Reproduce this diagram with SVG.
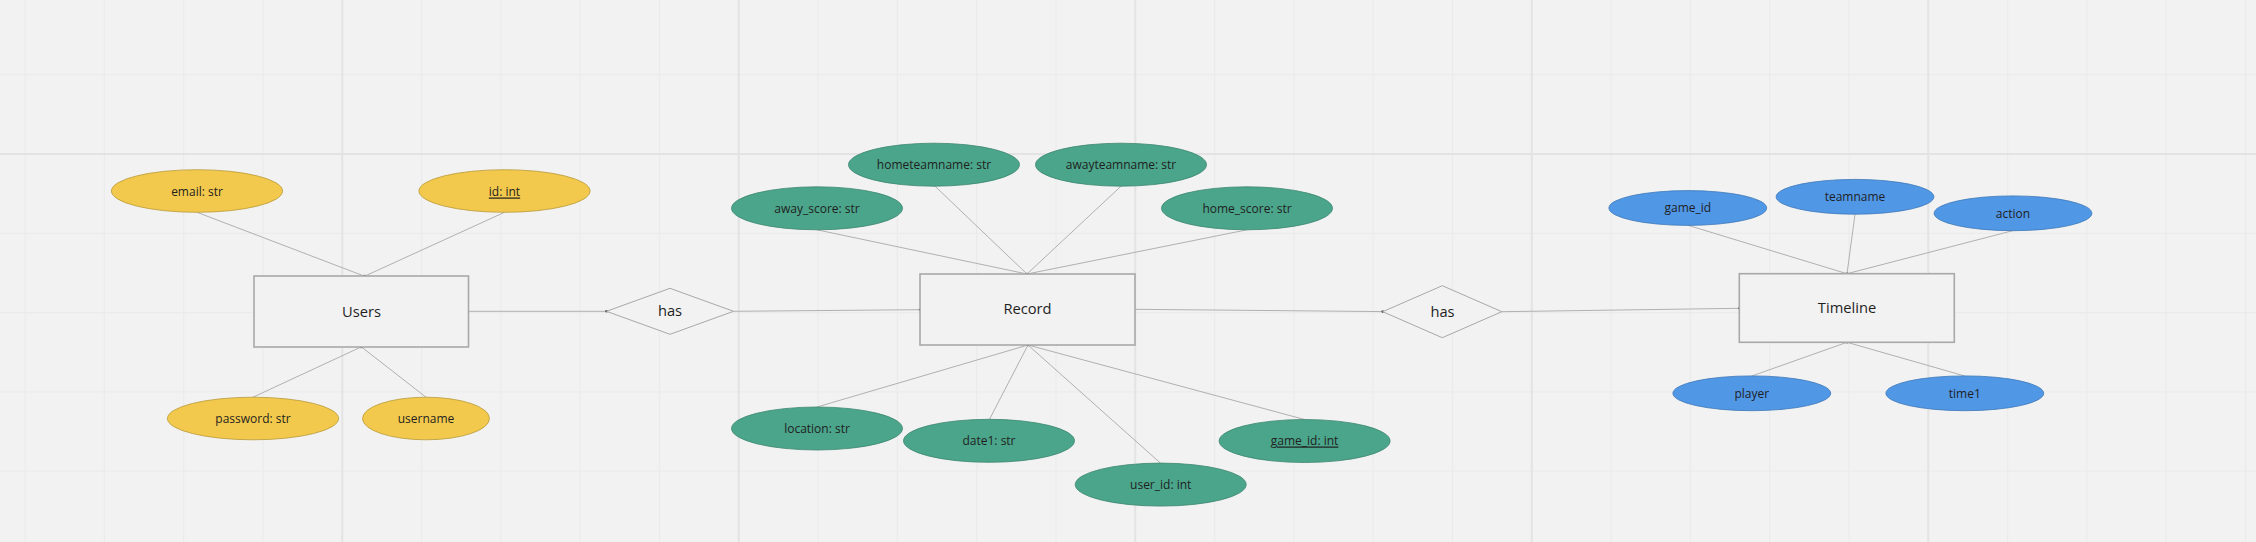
<svg xmlns="http://www.w3.org/2000/svg" width="2256" height="542" viewBox="0 0 2256 542">
<defs>
<style>
.bg{fill:#f2f2f2}
.gf{stroke:#ebebeb;stroke-width:1.2;fill:none}
.gs{stroke:#e3e3e3;stroke-width:2;fill:none}
.ent{fill:#f2f2f2;stroke:#a8a8a8;stroke-width:1.6}
.rel{fill:#f2f2f2;stroke:#a8a8a8;stroke-width:1}
.yel{fill:#f2c94c;stroke:#b89a3c;stroke-width:0.8}
.grn{fill:#4ba58a;stroke:#3c8670;stroke-width:0.8}
.blu{fill:#5097e6;stroke:#3f78b8;stroke-width:0.8}
.conn line{stroke:#b0b0b0;stroke-width:1}
.conn circle{fill:#555}
text{font-family:"Open Sans","Noto Sans","Liberation Sans",sans-serif;fill:#1f1f1f;text-anchor:middle;dominant-baseline:central}
.at{font-size:12px}
.et{font-size:14.7px}
.u{text-decoration:underline}
</style>
</defs>
<rect class="bg" x="0" y="0" width="2256" height="542"/>
<g id="grid">
<path class="gf" d="M25.1 0V542M104.4 0V542M183.7 0V542M263 0V542M421.6 0V542M500.9 0V542M580.2 0V542M659.5 0V542M818.1 0V542M897.4 0V542M976.7 0V542M1056 0V542M1214.6 0V542M1293.9 0V542M1373.2 0V542M1452.5 0V542M1611.1 0V542M1690.4 0V542M1769.7 0V542M1849 0V542M2007.6 0V542M2086.9 0V542M2166.2 0V542M2245.5 0V542"/>
<path class="gf" d="M0 74.7H2256M0 233.3H2256M0 312.6H2256M0 391.9H2256M0 471.2H2256"/>
<path class="gs" d="M342.3 0V542M738.8 0V542M1135.3 0V542M1531.8 0V542M1928.3 0V542M0 154H2256"/>
</g>
<g id="connectors" class="conn">
<line x1="197" y1="212.3" x2="364" y2="276"/>
<line x1="504.5" y1="212.3" x2="365" y2="276"/>
<line x1="253" y1="397.2" x2="361" y2="347"/>
<line x1="426" y1="397.2" x2="361.5" y2="347"/>
<line x1="468.5" y1="311.3" x2="606.5" y2="311.3"/>
<line x1="733.5" y1="311.3" x2="920" y2="309.7"/>
<line x1="1135" y1="309.3" x2="1382.7" y2="311.6"/>
<line x1="1501.8" y1="311.7" x2="1739.3" y2="308.3"/>
<line x1="817" y1="229.8" x2="1027" y2="274"/>
<line x1="935" y1="186.2" x2="1027" y2="274"/>
<line x1="1121" y1="186.2" x2="1027" y2="274"/>
<line x1="1247" y1="229.8" x2="1027" y2="274"/>
<line x1="817" y1="407" x2="1028" y2="345"/>
<line x1="989.5" y1="419.3" x2="1028" y2="345"/>
<line x1="1160.5" y1="463.1" x2="1028" y2="345"/>
<line x1="1304.5" y1="419.5" x2="1028" y2="345"/>
<line x1="1688" y1="225.3" x2="1847" y2="273.7"/>
<line x1="1855" y1="214.3" x2="1847" y2="273.7"/>
<line x1="2013" y1="230.6" x2="1847" y2="273.7"/>
<line x1="1751.8" y1="376" x2="1847" y2="342.3"/>
<line x1="1964.8" y1="376" x2="1847" y2="342.3"/>
<circle cx="364.5" cy="276" r="1.3"/>
<circle cx="361.2" cy="347" r="1.3"/>
<circle cx="606.5" cy="311.3" r="1.3"/>
<circle cx="920" cy="309.7" r="1.3"/>
<circle cx="1027" cy="274" r="1.3"/>
<circle cx="1028" cy="345" r="1.3"/>
<circle cx="1382.7" cy="311.6" r="1.3"/>
<circle cx="1739.3" cy="308.3" r="1.3"/>
<circle cx="1847" cy="273.7" r="1.3"/>
<circle cx="1847" cy="342.3" r="1.3"/>
</g>
<g id="users">
<rect class="ent" x="254" y="276" width="214.5" height="71"/>
<text class="et" x="361.5" y="310.5">Users</text>
</g>
<g id="users-email"><ellipse class="yel" cx="197" cy="191" rx="85.6" ry="21.3"/><text class="at" x="197" y="191">email: str</text></g>
<g id="users-id"><ellipse class="yel" cx="504.5" cy="191" rx="85.6" ry="21.3"/><text class="at u" x="504.5" y="191">id: int</text></g>
<g id="users-password"><ellipse class="yel" cx="253" cy="418.5" rx="85.6" ry="21.3"/><text class="at" x="253" y="418.5">password: str</text></g>
<g id="users-username"><ellipse class="yel" cx="426" cy="418.5" rx="63.5" ry="21.3"/><text class="at" x="426" y="418.5">username</text></g>
<g id="has1">
<polygon class="rel" points="606.5,311.3 670,288.3 733.5,311.3 670,334.3"/>
<text class="et" x="670" y="310">has</text>
</g>
<g id="record">
<rect class="ent" x="920" y="274" width="215" height="71"/>
<text class="et" x="1027.5" y="308">Record</text>
</g>
<g id="record-hometeamname"><ellipse class="grn" cx="934" cy="164.7" rx="85.5" ry="21.5"/><text class="at" x="934" y="164">hometeamname: str</text></g>
<g id="record-awayteamname"><ellipse class="grn" cx="1121" cy="164.7" rx="85.5" ry="21.5"/><text class="at" x="1121" y="164">awayteamname: str</text></g>
<g id="record-away_score"><ellipse class="grn" cx="817" cy="208.3" rx="85.5" ry="21.5"/><text class="at" x="817" y="208">away_score: str</text></g>
<g id="record-home_score"><ellipse class="grn" cx="1247" cy="208.3" rx="85.5" ry="21.5"/><text class="at" x="1247" y="208">home_score: str</text></g>
<g id="record-location"><ellipse class="grn" cx="817" cy="428.5" rx="85.5" ry="21.5"/><text class="at" x="817" y="428">location: str</text></g>
<g id="record-date1"><ellipse class="grn" cx="989" cy="440.8" rx="85.5" ry="21.5"/><text class="at" x="989" y="440">date1: str</text></g>
<g id="record-user_id"><ellipse class="grn" cx="1160.7" cy="484.6" rx="85.5" ry="21.5"/><text class="at" x="1160.7" y="484">user_id: int</text></g>
<g id="record-game_id"><ellipse class="grn" cx="1304.6" cy="441" rx="85.5" ry="21.5"/><text class="at u" x="1304.6" y="440">game_id: int</text></g>
<g id="has2">
<polygon class="rel" points="1382.7,311.7 1442.3,285.7 1501.8,311.7 1442.3,337.7"/>
<text class="et" x="1442.5" y="310.5">has</text>
</g>
<g id="timeline">
<rect class="ent" x="1739.3" y="273.7" width="215" height="68.6"/>
<text class="et" x="1847" y="307">Timeline</text>
</g>
<g id="timeline-game_id"><ellipse class="blu" cx="1687.8" cy="208" rx="78.9" ry="17.4"/><text class="at" x="1687.8" y="207">game_id</text></g>
<g id="timeline-teamname"><ellipse class="blu" cx="1855" cy="196.8" rx="78.9" ry="17.4"/><text class="at" x="1855" y="196">teamname</text></g>
<g id="timeline-action"><ellipse class="blu" cx="2013" cy="213.3" rx="78.9" ry="17.4"/><text class="at" x="2013" y="213">action</text></g>
<g id="timeline-player"><ellipse class="blu" cx="1751.8" cy="393.3" rx="78.9" ry="17.4"/><text class="at" x="1751.8" y="393">player</text></g>
<g id="timeline-time1"><ellipse class="blu" cx="1964.8" cy="393.3" rx="78.9" ry="17.4"/><text class="at" x="1964.8" y="393">time1</text></g>
</svg>
